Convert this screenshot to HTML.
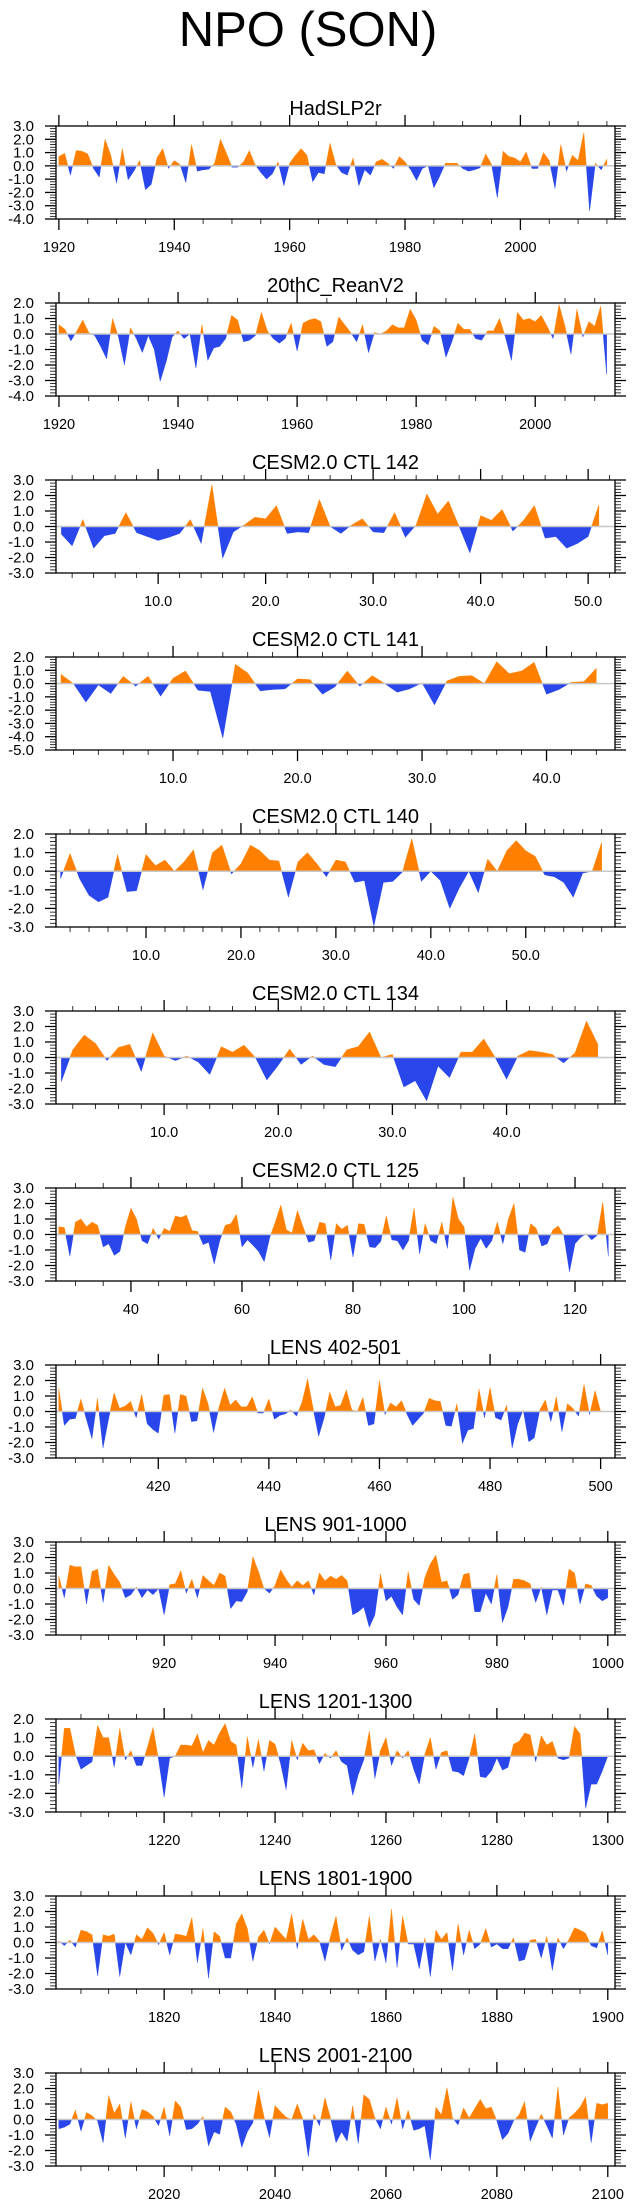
<!DOCTYPE html>
<html><head><meta charset="utf-8"><title>NPO (SON)</title>
<style>
html,body{margin:0;padding:0;background:#fff;}
svg{display:block;font-family:"Liberation Sans",Arial,sans-serif;}
</style></head>
<body>
<svg id="chart" width="635" height="2208" viewBox="0 0 635 2208" xmlns="http://www.w3.org/2000/svg">
<text x="308" y="46" font-size="49" text-anchor="middle" fill="#000">NPO (SON)</text>
</svg>
<script>
// ---- data (one array per panel) ----
const titles = ["HadSLP2r","20thC_ReanV2","CESM2.0 CTL 142","CESM2.0 CTL 141","CESM2.0 CTL 140","CESM2.0 CTL 134","CESM2.0 CTL 125","LENS 402-501","LENS 901-1000","LENS 1201-1300","LENS 1801-1900","LENS 2001-2100"];
const starts = [1920,1920,1,1,1,1,27,402,901,1201,1801,2001];
const xMins = [1919.5,1919.5,0.5,0.6,0.52,0.53,26.5,401.5,900.5,1200.5,1800.5,2000.5];
const xMaxs = [2016.4,2013.4,52.5,45.5,59.4,49.5,127.2,502.6,1001.3,1301.3,1901.3,2101.3];
const yMaxs = [3,2,3,2,2,3,3,3,3,2,3,3];
const yMins = [-4,-4,-3,-5,-3,-3,-3,-3,-3,-3,-3,-3];
const majorSteps = [20,20,10,10,10,10,20,20,20,20,20,20];
const minorSteps = [5,5,2,2,2,2,5,5,5,5,5,5];
const tickDecimals = [0,0,1,1,1,1,0,0,0,0,0,0];

const hadVals = [0.7,0.95,-0.7,1.15,1.1,0.9,-0.2,-0.85,2.0,0.8,-1.3,1.3,-1.05,-0.4,0.4,-1.8,-1.4,0.6,1.3,-0.2,0.4,0.1,-1.25,1.6,-0.4,-0.3,-0.25,0.2,2.0,1.0,-0.1,-0.1,0.3,1.15,0.1,-0.5,-1.0,-0.6,0.3,-1.5,0.2,0.8,1.3,0.8,-1.2,-0.5,-0.6,1.7,0.1,-0.5,-0.7,0.6,-1.5,-0.3,-0.7,0.3,0.5,0.2,-0.2,0.7,0.3,-0.3,-1.1,-0.2,0.0,-1.65,-0.8,0.2,0.2,0.2,-0.2,-0.4,-0.3,-0.15,0.9,0.1,-2.4,1.1,0.7,0.6,0.3,1.05,-0.2,-0.2,1.0,0.4,-1.7,1.6,-0.4,0.8,0.4,2.5,-3.4,0.2,-0.3,0.5];
const reanVals = [0.6,0.3,-0.45,0.2,0.9,0.1,-0.1,-0.8,-1.6,1.0,-0.2,-2.0,0.4,-0.3,-1.2,-0.1,-1.0,-3.05,-1.8,-0.2,0.2,-0.3,0.0,-2.2,0.6,-1.7,-0.9,-0.8,-0.3,1.2,0.9,-0.5,-0.4,-0.1,1.4,0.2,-0.3,-0.6,-0.3,0.7,-1.1,0.7,0.9,1.0,0.8,-0.8,-0.5,1.1,0.6,0.1,-0.5,0.6,-1.2,0.1,0.0,0.2,0.6,0.4,0.4,1.6,0.9,-0.4,-0.7,0.5,0.2,-1.5,-0.5,0.7,0.3,0.3,-0.3,-0.4,0.2,0.2,1.0,-0.2,-1.7,1.4,0.9,1.0,0.8,1.2,0.5,-0.3,1.9,0.5,-1.3,1.6,-0.2,0.8,0.5,1.8,-2.6];
const ctl142Vals = [-0.5,-1.25,0.45,-1.4,-0.6,-0.45,0.9,-0.4,-0.65,-0.9,-0.7,-0.45,0.45,-1.1,2.7,-2.05,-0.35,0.1,0.6,0.5,1.35,-0.45,-0.35,-0.4,1.75,0.0,-0.45,0.1,0.5,-0.35,-0.4,0.9,-0.7,0.1,2.1,0.8,1.65,0.0,-1.7,0.7,0.4,1.1,-0.3,0.4,1.35,-0.75,-0.65,-1.4,-1.1,-0.65,1.4];
const ctl141Vals = [0.7,0.0,-1.4,-0.1,-0.75,0.55,-0.2,0.55,-0.95,0.4,0.95,-0.5,-0.6,-4.1,1.45,0.8,-0.55,-0.45,-0.4,0.35,0.3,-0.8,-0.25,0.95,-0.2,0.6,0.0,-0.65,-0.4,0.05,-1.6,0.2,0.55,0.6,0.0,1.65,0.75,0.95,1.6,-0.8,-0.45,0.1,0.15,1.15];
const ctl140Vals = [-0.4,0.95,-0.4,-1.3,-1.65,-1.4,0.9,-1.1,-1.05,0.9,0.3,0.6,0.0,0.5,1.15,-1.0,1.0,1.4,-0.15,0.4,1.4,1.1,0.6,0.55,-1.4,0.5,1.0,0.4,-0.3,0.6,0.5,-0.6,-0.5,-2.95,-0.6,-0.55,-0.05,1.75,-0.55,0.0,-0.5,-2.0,-0.9,0.0,-1.15,0.65,0.0,1.1,1.65,1.1,0.8,-0.2,-0.3,-0.6,-1.4,-0.1,0.0,1.55];
const ctl134Vals = [-1.55,0.5,1.45,0.9,-0.2,0.65,0.85,-0.9,1.6,0.1,-0.2,0.1,-0.3,-1.1,0.7,0.35,0.8,0.0,-1.45,-0.5,0.55,-0.45,0.1,-0.45,-0.6,0.5,0.7,1.65,0.0,0.2,-1.9,-1.5,-2.8,-0.55,-1.3,0.35,0.35,1.2,0.0,-1.4,0.1,0.45,0.35,0.2,-0.35,0.3,2.35,0.85];
const ctl125Vals = [0.5,0.45,-1.4,0.8,1.0,0.5,0.8,0.6,-0.8,-0.6,-1.35,-1.1,0.5,1.7,1.0,-0.4,-0.6,0.4,-0.3,0.4,0.2,1.2,1.1,1.25,0.25,0.2,-0.65,-0.5,-1.9,-0.4,0.6,0.7,1.3,-0.8,-0.35,-0.7,-1.1,-1.75,-0.2,0.8,1.9,0.3,0.1,1.55,0.5,-0.5,-0.4,0.8,0.7,-1.65,0.7,0.35,0.6,-1.45,0.7,0.65,-0.8,-0.85,-0.45,1.2,-0.35,-0.4,-1.0,-0.4,1.7,-1.25,0.7,-0.4,-0.6,0.8,-0.9,2.4,1.0,0.5,-2.3,-0.9,-0.25,-0.9,-0.4,0.8,-0.6,1.0,2.0,-1.0,-1.15,0.7,0.4,-0.75,-0.6,0.3,0.55,-0.1,-2.4,-0.6,-0.2,0.05,-0.35,-0.05,2.1,-1.4];
const lens402Vals = [1.5,-0.9,-0.5,-0.45,0.8,-0.5,-1.75,0.85,-2.35,-0.5,1.2,0.2,0.35,0.65,-0.4,1.1,-0.8,-1.15,-1.4,1.05,1.1,-1.4,1.1,1.0,-0.65,-0.6,1.5,0.5,-1.35,0.3,1.5,0.4,0.75,0.3,0.3,0.95,-0.1,-0.1,0.8,-0.5,-0.25,-0.15,0.1,-0.3,0.6,2.1,0.2,-1.6,-0.4,1.25,0.3,0.4,1.4,0.1,0.0,0.9,-0.9,-0.8,2.0,-0.2,0.55,0.3,0.7,-0.2,-0.9,-0.5,-0.1,0.85,0.7,0.65,-0.9,-0.95,0.5,-2.05,-1.2,-1.1,1.45,-0.4,1.55,-0.4,-0.55,0.4,-2.35,-0.8,0.1,-1.95,-1.7,0.1,0.75,-0.65,0.95,-1.3,0.5,0.2,-0.3,1.75,-0.2,1.35,0.0,0.0];
const lens901Vals = [0.8,-0.6,1.5,1.4,1.4,-1.0,1.1,1.25,-0.9,1.5,0.9,0.4,-0.6,-0.4,0.1,-0.6,-0.1,-0.4,0.0,-1.7,0.25,0.3,1.15,-0.3,0.6,-0.6,0.85,0.5,0.2,1.0,0.8,-1.3,-0.8,-0.85,-0.2,2.05,1.1,0.0,-0.3,0.2,1.2,0.6,0.1,0.5,0.2,0.5,-0.4,1.0,0.5,0.8,0.6,0.85,0.5,-1.7,-1.5,-1.2,-2.5,-1.7,0.95,-0.8,-0.5,-1.2,-1.7,1.1,-0.7,-1.1,0.7,1.6,2.15,0.4,0.5,-0.7,-0.4,0.9,1.0,-1.5,-1.5,-0.3,-1.0,0.9,-2.2,-1.2,0.6,0.6,0.5,0.3,-0.9,0.1,-1.7,-0.1,-0.1,-1.1,1.25,1.0,-1.0,0.3,0.2,-0.5,-0.8,-0.6];
const lens1201Vals = [-1.5,1.5,1.5,0.1,-0.7,-0.5,-0.3,1.65,1.0,1.0,-0.6,1.5,-0.2,0.3,-0.5,-0.5,0.5,1.55,-0.2,-2.2,-0.1,0.0,0.6,0.6,0.55,1.2,0.2,0.85,0.6,1.25,1.75,0.8,0.6,-1.7,1.05,-0.6,0.9,-0.8,0.85,0.65,-0.4,-1.8,0.85,-0.2,0.7,0.3,0.35,-0.4,0.15,-0.1,0.3,-0.3,-0.5,-2.1,-1.0,-0.2,1.35,-1.2,0.3,1.0,-0.5,0.3,-0.1,0.3,-0.7,-1.5,0.1,1.0,-0.7,0.2,0.3,-0.8,-0.85,-1.05,-0.1,1.2,-1.1,-1.15,-0.8,-0.1,-0.75,-0.6,0.65,0.8,1.25,1.15,-0.3,1.1,0.6,0.8,-0.1,-0.2,-0.1,1.6,1.2,-2.8,-1.5,-1.5,-0.8,0.0];
const lens1801Vals = [0.1,-0.2,0.15,-0.3,0.8,0.7,0.5,-2.15,0.5,0.4,0.55,-2.2,0.0,-0.8,0.5,0.2,0.95,0.6,-0.15,0.65,-0.8,0.55,0.5,0.4,1.6,-1.3,0.9,-2.3,0.7,0.4,-1.0,-1.0,1.2,1.85,0.9,-1.2,0.35,0.8,-0.1,1.0,0.6,0.2,1.85,-0.4,1.5,0.2,0.5,0.1,-1.2,0.4,1.7,-0.5,0.3,-0.5,-0.8,-0.6,1.7,-1.2,0.2,-1.3,2.15,-1.6,1.7,-0.1,-0.1,-1.7,0.3,-2.2,0.8,0.2,0.65,-1.8,1.2,-0.8,0.8,-0.4,-0.1,0.9,-0.3,-0.1,-0.4,-0.4,0.3,-1.2,-1.1,0.15,0.2,-1.0,0.4,-1.8,0.3,-0.4,0.2,0.95,0.8,0.6,-0.2,-0.35,0.75,-0.8];
const lens2001Vals = [-0.6,-0.5,-0.3,0.6,-0.75,0.45,0.25,-0.1,-1.5,1.55,0.4,1.0,-1.2,1.15,-0.6,0.65,0.5,0.2,-0.4,0.8,-1.05,1.2,0.8,-0.65,-0.6,-0.3,0.2,-1.7,-0.8,-0.95,0.8,0.5,-0.3,-1.8,-0.8,-0.2,1.9,0.2,-1.15,0.9,0.5,0.15,0.0,1.0,0.05,-2.4,0.35,-0.4,1.4,0.1,-1.5,-0.8,-1.4,0.9,-1.55,1.6,1.3,0.1,-0.6,0.8,-0.3,1.4,-0.6,0.6,-0.7,-0.6,-0.4,-2.6,0.8,0.3,2.05,0.1,-0.35,0.75,0.1,0.7,1.3,0.7,0.8,-0.1,-1.3,-0.9,-0.1,0.3,1.15,-1.4,-0.5,0.35,-0.4,-1.2,2.1,-1.0,0.1,0.4,0.8,1.45,-1.5,1.05,0.95,1.05];

const seriesList = [hadVals,reanVals,ctl142Vals,ctl141Vals,ctl140Vals,ctl134Vals,ctl125Vals,lens402Vals,lens901Vals,lens1201Vals,lens1801Vals,lens2001Vals];

// ---- drawing ----
const NS = "http://www.w3.org/2000/svg";
const svg = document.getElementById("chart");
const PL = 56, PR = 615, PH = 93, TOP0 = 126, PITCH = 177;
const ORANGE = "#ff8000", BLUE = "#2846ea";

function mk(tag, attrs, parent) {
  const e = document.createElementNS(NS, tag);
  for (const k in attrs) e.setAttribute(k, attrs[k]);
  (parent || svg).appendChild(e);
  return e;
}
function fmtY(v) { return v.toFixed(1); }

for (let p = 0; p < 12; p++) {
  const top = TOP0 + PITCH * p, bot = top + PH;
  const xMin = xMins[p], xMax = xMaxs[p], yMax = yMaxs[p], yMin = yMins[p];
  const xs = v => PL + (v - xMin) / (xMax - xMin) * (PR - PL);
  const ys = v => top + (yMax - v) / (yMax - yMin) * PH;
  const g = mk("g", {});
  
  

  const t = mk("text", {x: (PL + PR) / 2, y: top - 11, "font-size": 20, "text-anchor": "middle", fill: "#000"}, g);
  
  
  t.textContent = titles[p];

  const vals = seriesList[p];
  const y0 = ys(0);
  let d = "M" + xs(starts[p]).toFixed(2) + "," + y0.toFixed(2);
  vals.forEach((v, i) => { d += " L" + xs(starts[p] + i).toFixed(2) + "," + ys(v).toFixed(2); });
  d += " L" + xs(starts[p] + vals.length - 1).toFixed(2) + "," + y0.toFixed(2) + " Z";
  const cidP = "cp" + p, cidN = "cn" + p;
  const defs = mk("defs", {}, g);
  const c1 = mk("clipPath", {id: cidP}, defs);
  mk("rect", {x: PL, y: top, width: PR - PL, height: y0 - top}, c1);
  const c2 = mk("clipPath", {id: cidN}, defs);
  mk("rect", {x: PL, y: y0, width: PR - PL, height: bot - y0}, c2);
  const pos = mk("path", {d: d, fill: ORANGE, "clip-path": "url(#" + cidP + ")", stroke: ORANGE, "stroke-width": 0.4}, g);
  
  
  const neg = mk("path", {d: d, fill: BLUE, "clip-path": "url(#" + cidN + ")", stroke: BLUE, "stroke-width": 0.4}, g);
  
  
  const zl = mk("line", {x1: PL, x2: PR, y1: y0, y2: y0, stroke: "#c8c8c8", "stroke-width": 1.5}, g);
  
  

  const fr = mk("rect", {x: PL, y: top, width: PR - PL, height: PH, fill: "none", stroke: "#000", "stroke-width": 1.3}, g);
  
  

  const ms = minorSteps[p], MS = majorSteps[p];
  for (let v = Math.ceil(xMin / ms) * ms; v <= xMax; v += ms) {
    const X = xs(v), major = (v % MS === 0), L = major ? 11 : 5;
    mk("line", {x1: X, x2: X, y1: bot, y2: bot + L, stroke: "#000", "stroke-width": major ? 1.3 : 0.8}, g);
    mk("line", {x1: X, x2: X, y1: top, y2: top - L, stroke: "#000", "stroke-width": major ? 1.3 : 0.8}, g);
    if (major) {
      const lab = mk("text", {x: X, y: bot + 33, "font-size": 14.5, "text-anchor": "middle", fill: "#000"}, g);
      
      
      lab.textContent = v.toFixed(tickDecimals[p]);
    }
  }
  for (let k = Math.round(yMin * 5); k <= Math.round(yMax * 5); k++) {
    const v = k / 5, Y = ys(v), major = (k % 5 === 0), L = major ? 11 : 6;
    mk("line", {x1: PL, x2: PL - L, y1: Y, y2: Y, stroke: "#000", "stroke-width": major ? 1.3 : 0.8}, g);
    mk("line", {x1: PR, x2: PR + L, y1: Y, y2: Y, stroke: "#000", "stroke-width": major ? 1.3 : 0.8}, g);
    if (major) {
      const lab = mk("text", {x: 34, y: Y + 5, "font-size": 15, "text-anchor": "end", fill: "#000"}, g);
      
      
      lab.textContent = fmtY(v);
    }
  }
}
</script>
</body></html>
